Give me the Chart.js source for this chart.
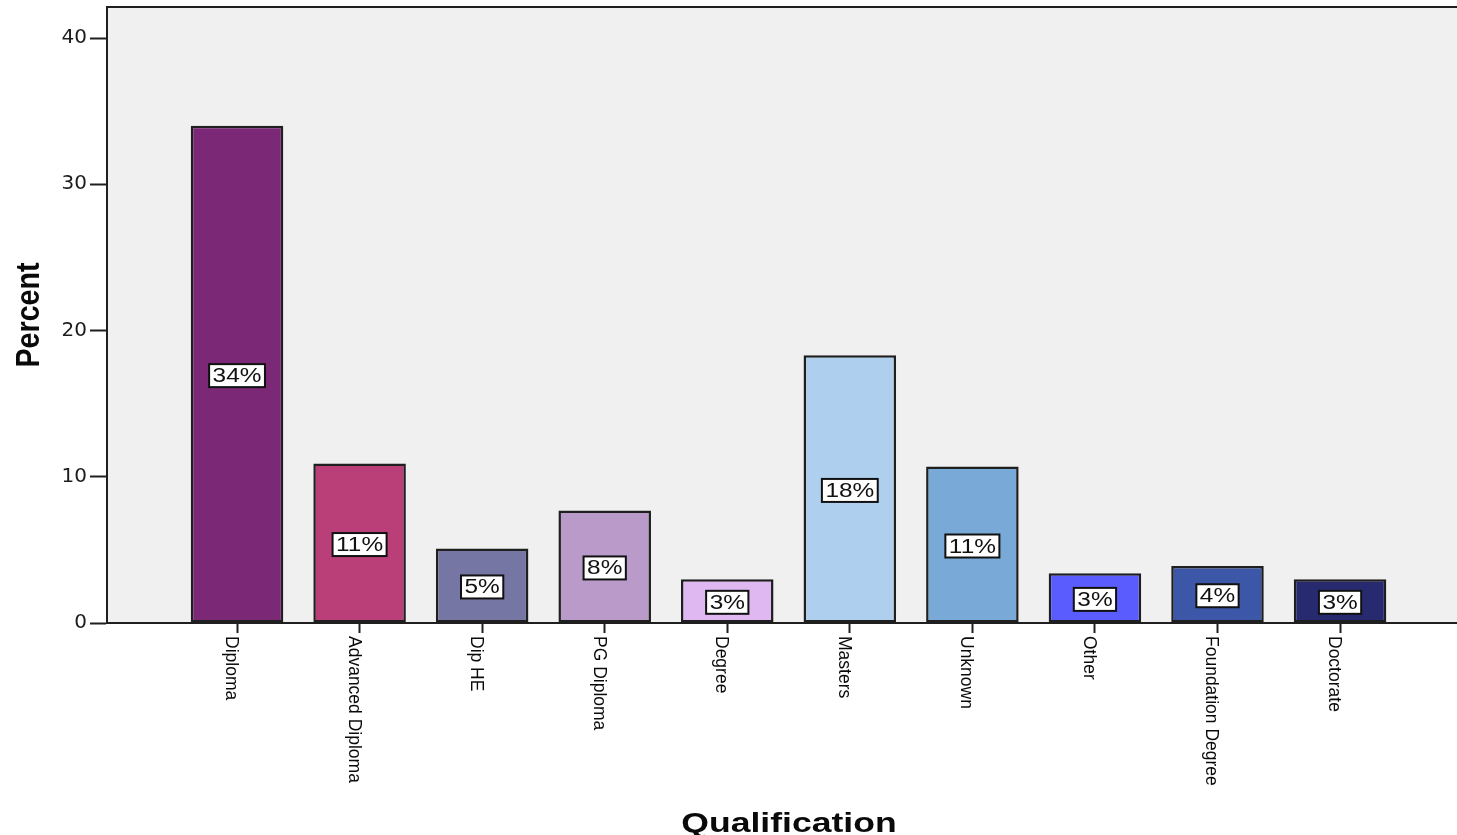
<!DOCTYPE html>
<html>
<head>
<meta charset="utf-8">
<title>Qualification</title>
<script src="https://cdn.jsdelivr.net/npm/chart.js@4/dist/chart.umd.min.js"></script>
<style>
  html, body { margin: 0; padding: 0; background: #ffffff; overflow: hidden; }
  #wrap { width: 1457px; height: 835px; overflow: hidden; }
  canvas { display: block; }
</style>
</head>
<body>
<div id="wrap"><canvas id="chart" width="1470" height="835"></canvas></div>
<script>
// Qualification categories and their share of respondents (%)
const categories = ['Diploma', 'Advanced Diploma', 'Dip HE', 'PG Diploma', 'Degree',
                    'Masters', 'Unknown', 'Other', 'Foundation Degree', 'Doctorate'];
const percents = [34.0, 10.9, 5.1, 7.7, 3.0, 18.3, 10.7, 3.4, 3.9, 3.0];
const barColors = ['#7b2877', '#ba3e78', '#7676a4', '#b99ac8', '#dfb8f1',
                   '#aed0ee', '#79a9d6', '#5a5cfe', '#3c57a8', '#282a70'];
const yTickValues = [0, 10, 20, 30, 40];

const INK = '#1c1c1c';
const LINE = '#1f1f1f';

// plot background and top frame line
const frame = {
  id: 'frame',
  beforeDraw(chart) {
    const { ctx, chartArea: a } = chart;
    ctx.save();
    ctx.fillStyle = '#f0f0f0';
    ctx.fillRect(a.left, a.top, a.right - a.left, a.bottom - a.top);
    ctx.restore();
  },
  afterDraw(chart) {
    const { ctx, chartArea: a } = chart;
    ctx.save();
    ctx.strokeStyle = LINE;
    ctx.lineWidth = 2;
    ctx.beginPath();
    ctx.moveTo(a.left - 1, a.top);
    ctx.lineTo(a.right + 10, a.top);
    ctx.stroke();
    ctx.restore();
  }
};

// boxed percentage label in the middle of each bar
const valueBoxes = {
  id: 'valueBoxes',
  afterDatasetsDraw(chart) {
    const { ctx } = chart;
    const meta = chart.getDatasetMeta(0);
    const sx = 1.22;
    ctx.save();
    ctx.font = '20px "Liberation Sans", Arial, sans-serif';
    ctx.textBaseline = 'middle';
    ctx.textAlign = 'center';
    meta.data.forEach((bar, i) => {
      const txt = Math.round(percents[i]) + '%';
      const w = ctx.measureText(txt).width * sx + 7;
      const h = 23;
      const cx = bar.x;
      const cy = (bar.y + bar.base) / 2 + 1.5;
      ctx.fillStyle = '#ffffff';
      ctx.fillRect(cx - w / 2, cy - h / 2, w, h);
      ctx.strokeStyle = '#111111';
      ctx.lineWidth = 2;
      ctx.strokeRect(cx - w / 2, cy - h / 2, w, h);
      ctx.fillStyle = '#111111';
      ctx.save();
      ctx.translate(cx, cy + 1);
      ctx.scale(sx, 1);
      ctx.fillText(txt, 0, 0);
      ctx.restore();
    });
    ctx.restore();
  }
};

// rotated category labels under the ticks, plus axis titles
const axisText = {
  id: 'axisText',
  afterDraw(chart) {
    const { ctx, chartArea: a } = chart;
    const xs = chart.scales.x;
    ctx.save();
    ctx.fillStyle = '#0a0a0a';
    ctx.font = '17.5px "Liberation Sans", Arial, sans-serif';
    ctx.textAlign = 'left';
    ctx.textBaseline = 'alphabetic';
    categories.forEach((label, i) => {
      const px = xs.getPixelForValue(i);
      ctx.save();
      ctx.translate(px + 1.5, a.bottom + 13);
      ctx.rotate(Math.PI / 2);
      ctx.fillText(label, 0, 12.5);
      ctx.restore();
    });

    // x title
    ctx.save();
    ctx.font = 'bold 28px "Liberation Sans", Arial, sans-serif';
    ctx.textAlign = 'center';
    ctx.textBaseline = 'alphabetic';
    ctx.translate(789, 832);
    ctx.scale(1.27, 1);
    ctx.fillText('Qualification', 0, 0);
    ctx.restore();

    // y title
    ctx.save();
    ctx.font = 'bold 22px "Liberation Sans", Arial, sans-serif';
    ctx.textAlign = 'center';
    ctx.textBaseline = 'middle';
    ctx.translate(30, 315);
    ctx.rotate(-Math.PI / 2);
    ctx.scale(1.3, 1.5);
    ctx.fillText('Percent', 0, 0);
    ctx.restore();
    ctx.restore();
  }
};

new Chart(document.getElementById('chart'), {
  type: 'bar',
  data: {
    datasets: [{
      data: percents.map((v, i) => ({ x: i, y: v })),
      backgroundColor: barColors,
      borderColor: LINE,
      borderWidth: 2.5,
      borderSkipped: false,
      categoryPercentage: 1,
      barPercentage: 0.755
    }]
  },
  options: {
    responsive: false,
    devicePixelRatio: 1,
    animation: false,
    layout: { padding: { top: 7, right: 8, left: 0, bottom: 0 } },
    plugins: { legend: { display: false }, tooltip: { enabled: false } },
    scales: {
      x: {
        type: 'linear',
        min: -1.061,
        max: 9.995,
        offset: false,
        afterBuildTicks(s) { s.ticks = categories.map((_, i) => ({ value: i })); },
        afterFit(s) {
          s.height = 212;
          s.paddingLeft = 0; s.paddingRight = 0;
        },
        ticks: { display: false },
        grid: {
          offset: false,
          drawOnChartArea: false,
          drawTicks: true,
          tickLength: 10,
          tickWidth: 2,
          tickColor: LINE
        },
        border: { display: true, color: LINE, width: 2 }
      },
      y: {
        min: 0,
        max: 42.12,
        afterBuildTicks(s) { s.ticks = yTickValues.map(v => ({ value: v })); },
        afterFit(s) {
          s.width = 107;
          s.paddingTop = 0; s.paddingBottom = 0;
        },
        ticks: {
          padding: 3,
          color: INK,
          font: { family: '"DejaVu Sans", sans-serif', size: 20 }
        },
        grid: {
          drawOnChartArea: false,
          drawTicks: true,
          tickLength: 17,
          tickWidth: 2,
          tickColor: LINE
        },
        border: { display: true, color: LINE, width: 2 }
      }
    }
  },
  plugins: [frame, valueBoxes, axisText]
});
</script>
</body>
</html>
